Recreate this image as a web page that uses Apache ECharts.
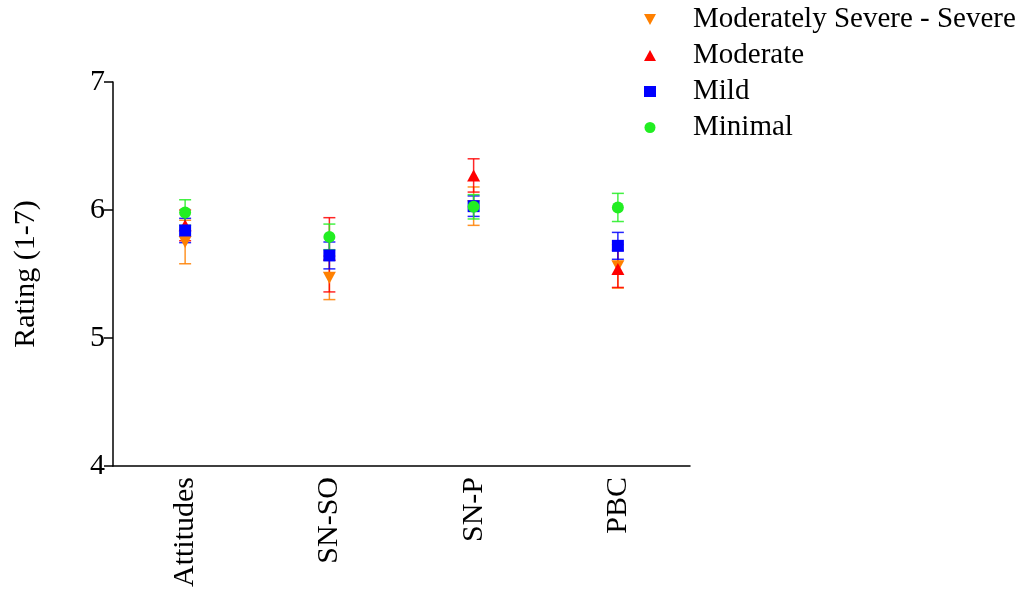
<!DOCTYPE html>
<html>
<head>
<meta charset="utf-8">
<script src="https://cdn.jsdelivr.net/npm/echarts@6/dist/echarts.min.js"></script>
<style>
  html, body { margin: 0; padding: 0; background: #fff; }
  #chart { width: 1026px; height: 592px; }
</style>
</head>
<body>
<div id="chart"></div>
<script>
  // categories and values (mean, +/- error)
  var categories = ['Attitudes', 'SN-SO', 'SN-P', 'PBC']
  var seriesNames = ['Moderately Severe - Severe', 'Moderate', 'Mild', 'Minimal']

  var severeMean = [5.75, 5.47, 6.03, 5.56]
  var severeErr = [0.17, 0.17, 0.15, 0.17]
  var moderateMean = [5.88, 5.65, 6.27, 5.54]
  var moderateErr = [0.12, 0.29, 0.13, 0.145]
  var mildMean = [5.84, 5.645, 6.03, 5.72]
  var mildErr = [0.095, 0.105, 0.08, 0.105]
  var minimalMean = [5.98, 5.79, 6.025, 6.02]
  var minimalErr = [0.1, 0.1, 0.095, 0.11]

  var yTicks = [4, 5, 6, 7]

  var FONT = 'Liberation Serif'
  var colors = ['#ff8000', '#ff0000', '#0000ff', '#22ee22']
  var symbols = ['path://M0,0 L10,0 L5,9 Z', 'path://M5,0 L10,9 L0,9 Z', 'rect', 'circle']
  var means = [severeMean, moderateMean, mildMean, minimalMean]
  var errs = [severeErr, moderateErr, mildErr, minimalErr]

  function errorBarSeries(idx) {
    var data = means[idx].map(function (m, i) {
      return [i, m - errs[idx][i], m + errs[idx][i]]
    })
    return {
      type: 'custom',
      name: seriesNames[idx] + ' err',
      data: data,
      silent: true,
      renderItem: function (params, api) {
        var lo = api.coord([api.value(0), api.value(1)])
        var hi = api.coord([api.value(0), api.value(2)])
        var half = 6
        var style = { stroke: colors[idx], lineWidth: 1.5, opacity: 0.85 }
        return {
          type: 'group',
          children: [
            { type: 'line', shape: { x1: hi[0], y1: hi[1], x2: lo[0], y2: lo[1] }, style: style },
            { type: 'line', shape: { x1: hi[0] - half, y1: hi[1], x2: hi[0] + half, y2: hi[1] }, style: style },
            { type: 'line', shape: { x1: lo[0] - half, y1: lo[1], x2: lo[0] + half, y2: lo[1] }, style: style }
          ]
        }
      },
      encode: { x: 0, y: [1, 2] }
    }
  }

  var series = []
  for (var k = 0; k < 4; k++) {
    series.push(errorBarSeries(k))
    series.push({
      type: 'scatter',
      name: seriesNames[k],
      data: means[k],
      symbol: symbols[k],
      symbolSize: k < 2 ? [13, 12] : 12,
      itemStyle: { color: colors[k], opacity: 1 }
    })
  }

  var chart = echarts.init(document.getElementById('chart'))
  chart.setOption({
    animation: false,
    backgroundColor: '#fff',
    grid: { left: 113, right: 336, top: 82, bottom: 126 },
    legend: {
      orient: 'vertical',
      left: 639,
      top: 0,
      itemWidth: 12,
      itemHeight: 11,
      itemGap: 7,
      data: seriesNames,
      textStyle: { fontFamily: FONT, fontSize: 29, color: '#000', lineHeight: 29, padding: [0, 0, 0, 32] }
    },
    xAxis: {
      type: 'category',
      data: categories,
      boundaryGap: true,
      axisLine: { lineStyle: { color: '#000', width: 1.5 } },
      axisTick: { alignWithLabel: true, length: 8, lineStyle: { color: '#000', width: 1.5 } },
      axisLabel: { rotate: 90, margin: 11, fontFamily: FONT, fontSize: 30, color: '#000' },
      splitLine: { show: false }
    },
    yAxis: {
      type: 'value',
      min: yTicks[0],
      max: yTicks[yTicks.length - 1],
      interval: 1,
      name: 'Rating (1-7)',
      nameLocation: 'middle',
      nameRotate: 90,
      nameGap: 72,
      nameTextStyle: { fontFamily: FONT, fontSize: 30, color: '#000' },
      axisLine: { show: true, lineStyle: { color: '#000', width: 1.5 } },
      axisTick: { show: true, length: 9, lineStyle: { color: '#000', width: 1.5 } },
      axisLabel: { margin: 8, fontFamily: FONT, fontSize: 30, color: '#000' },
      splitLine: { show: false }
    },
    series: series
  })
</script>
</body>
</html>
